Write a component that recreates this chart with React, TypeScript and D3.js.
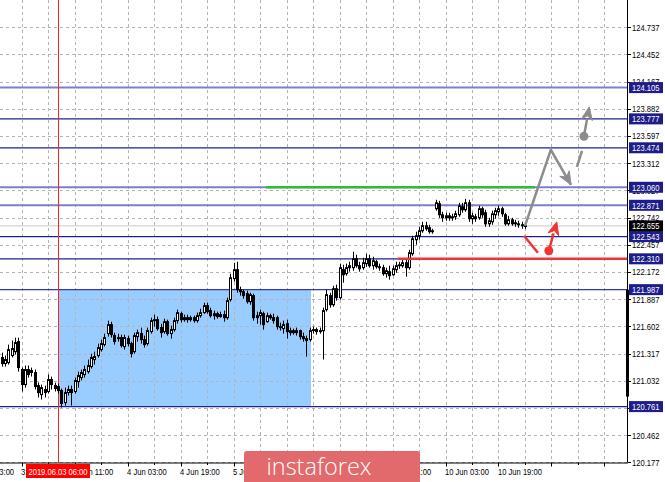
import React from 'react';
import * as d3 from 'd3';

const W = 665;
const H = 482;

// [open, high, low, close] – hourly bars, bar 17 = 2019.06.03 06:00
const candles: [number, number, number, number][] = [
  [121.275, 121.327, 121.180, 121.212], [121.212, 121.296, 121.180, 121.254], [121.222, 121.411, 121.201, 121.358],
  [121.296, 121.453, 121.275, 121.369], [121.337, 121.484, 121.306, 121.432], [121.442, 121.484, 121.128, 121.170],
  [121.149, 121.170, 120.919, 120.992], [120.992, 121.191, 120.960, 121.149], [121.149, 121.191, 121.065, 121.097],
  [121.118, 121.170, 121.076, 121.139], [121.118, 121.149, 120.940, 120.971], [120.981, 121.013, 120.856, 120.908],
  [120.887, 120.992, 120.835, 120.960], [120.940, 120.981, 120.856, 120.908], [120.919, 121.097, 120.898, 121.044],
  [121.044, 121.076, 120.940, 120.992], [120.981, 121.013, 120.919, 120.950], [120.971, 121.002, 120.898, 120.929],
  [120.929, 120.950, 120.751, 120.793], [120.803, 120.960, 120.772, 120.908], [120.908, 120.981, 120.877, 120.940],
  [120.940, 120.981, 120.772, 120.908], [120.919, 121.065, 120.898, 121.034], [121.023, 121.128, 120.960, 121.086],
  [121.065, 121.149, 121.034, 121.118], [121.097, 121.191, 121.065, 121.149], [121.128, 121.254, 121.107, 121.191],
  [121.180, 121.316, 121.160, 121.275], [121.254, 121.337, 121.201, 121.285], [121.296, 121.421, 121.275, 121.379],
  [121.358, 121.463, 121.337, 121.421], [121.411, 121.526, 121.390, 121.484], [121.526, 121.662, 121.494, 121.620],
  [121.620, 121.651, 121.484, 121.515], [121.505, 121.536, 121.411, 121.442], [121.473, 121.526, 121.442, 121.484],
  [121.484, 121.515, 121.379, 121.400], [121.390, 121.515, 121.358, 121.484], [121.473, 121.505, 121.390, 121.421],
  [121.421, 121.442, 121.275, 121.316], [121.337, 121.536, 121.316, 121.505], [121.494, 121.568, 121.442, 121.536],
  [121.526, 121.589, 121.421, 121.463], [121.463, 121.505, 121.379, 121.411], [121.421, 121.589, 121.400, 121.557],
  [121.547, 121.693, 121.526, 121.662], [121.662, 121.725, 121.599, 121.672], [121.672, 121.704, 121.557, 121.578],
  [121.589, 121.630, 121.484, 121.536], [121.547, 121.683, 121.526, 121.651], [121.651, 121.672, 121.505, 121.526],
  [121.526, 121.610, 121.473, 121.568], [121.568, 121.693, 121.547, 121.662], [121.662, 121.777, 121.630, 121.746],
  [121.735, 121.756, 121.641, 121.672], [121.672, 121.725, 121.651, 121.693], [121.693, 121.725, 121.641, 121.672],
  [121.672, 121.714, 121.651, 121.693], [121.693, 121.714, 121.641, 121.662], [121.662, 121.746, 121.641, 121.714],
  [121.714, 121.787, 121.693, 121.746], [121.746, 121.850, 121.735, 121.819], [121.819, 121.850, 121.735, 121.756],
  [121.767, 121.798, 121.693, 121.714], [121.714, 121.767, 121.672, 121.735], [121.735, 121.756, 121.683, 121.704],
  [121.704, 121.756, 121.693, 121.725], [121.725, 121.767, 121.651, 121.693], [121.693, 121.903, 121.672, 121.871],
  [121.882, 122.154, 121.861, 122.112], [122.102, 122.269, 122.070, 122.196], [122.196, 122.279, 121.955, 121.986],
  [121.986, 122.018, 121.924, 121.965], [121.965, 121.986, 121.892, 121.924], [121.945, 121.976, 121.840, 121.861],
  [121.861, 121.955, 121.829, 121.934], [121.924, 121.945, 121.662, 121.693], [121.693, 121.756, 121.630, 121.714],
  [121.714, 121.777, 121.620, 121.746], [121.735, 121.756, 121.568, 121.620], [121.651, 121.746, 121.641, 121.714],
  [121.714, 121.735, 121.672, 121.693], [121.693, 121.735, 121.630, 121.662], [121.693, 121.714, 121.568, 121.599],
  [121.599, 121.641, 121.557, 121.589], [121.578, 121.662, 121.526, 121.620], [121.630, 121.672, 121.473, 121.547],
  [121.536, 121.589, 121.505, 121.557], [121.557, 121.578, 121.515, 121.536], [121.536, 121.589, 121.505, 121.557],
  [121.557, 121.568, 121.463, 121.494], [121.494, 121.536, 121.442, 121.473], [121.473, 121.505, 121.285, 121.453],
  [121.463, 121.589, 121.442, 121.557], [121.557, 121.599, 121.526, 121.568], [121.568, 121.589, 121.515, 121.547],
  [121.547, 121.589, 121.526, 121.557], [121.557, 121.798, 121.254, 121.767], [121.777, 121.986, 121.756, 121.934],
  [121.924, 121.955, 121.798, 121.829], [121.829, 122.028, 121.808, 121.997], [121.997, 122.039, 121.871, 121.903],
  [121.903, 122.259, 121.882, 122.217], [122.196, 122.248, 122.060, 122.143], [122.154, 122.259, 122.133, 122.217],
  [122.217, 122.279, 122.175, 122.238], [122.217, 122.384, 122.185, 122.311], [122.311, 122.353, 122.217, 122.238],
  [122.238, 122.279, 122.175, 122.206], [122.217, 122.321, 122.196, 122.269], [122.259, 122.363, 122.227, 122.311],
  [122.311, 122.353, 122.217, 122.238], [122.238, 122.332, 122.196, 122.290], [122.279, 122.300, 122.206, 122.227],
  [122.227, 122.259, 122.185, 122.217], [122.217, 122.248, 122.133, 122.154], [122.154, 122.217, 122.112, 122.185],
  [122.175, 122.238, 122.091, 122.133], [122.143, 122.238, 122.133, 122.206], [122.196, 122.279, 122.164, 122.238],
  [122.238, 122.279, 122.206, 122.248], [122.238, 122.311, 122.217, 122.269], [122.269, 122.300, 122.122, 122.217],
  [122.217, 122.405, 122.196, 122.374], [122.363, 122.552, 122.342, 122.520], [122.510, 122.594, 122.458, 122.552],
  [122.552, 122.646, 122.510, 122.604], [122.604, 122.698, 122.583, 122.657], [122.657, 122.698, 122.604, 122.625],
  [122.636, 122.667, 122.573, 122.594], [122.594, 122.625, 122.573, 122.604], [122.835, 122.929, 122.814, 122.897],
  [122.887, 122.918, 122.740, 122.772], [122.772, 122.803, 122.698, 122.740], [122.740, 122.793, 122.709, 122.761],
  [122.761, 122.793, 122.709, 122.740], [122.740, 122.782, 122.709, 122.751], [122.751, 122.814, 122.719, 122.782],
  [122.772, 122.897, 122.751, 122.866], [122.856, 122.897, 122.793, 122.824], [122.824, 122.939, 122.803, 122.897],
  [122.897, 122.929, 122.698, 122.730], [122.730, 122.793, 122.677, 122.761], [122.751, 122.782, 122.698, 122.730],
  [122.740, 122.866, 122.719, 122.835], [122.835, 122.856, 122.740, 122.772], [122.793, 122.824, 122.646, 122.677],
  [122.677, 122.740, 122.646, 122.709], [122.698, 122.814, 122.667, 122.782], [122.772, 122.845, 122.730, 122.814],
  [122.803, 122.866, 122.761, 122.835], [122.835, 122.856, 122.751, 122.782], [122.772, 122.793, 122.657, 122.677],
  [122.677, 122.761, 122.657, 122.719], [122.719, 122.740, 122.657, 122.677], [122.688, 122.719, 122.646, 122.677],
  [122.677, 122.709, 122.636, 122.667], [122.667, 122.698, 122.625, 122.657], [122.657, 122.688, 122.625, 122.655],
];

const priceTicks = [124.737, 124.452, 124.167, 123.882, 123.597, 123.312, 123.027, 122.742, 122.457,
  122.172, 121.887, 121.602, 121.317, 121.032, 120.747, 120.462, 120.177];

const levelValues = [124.105, 123.777, 123.474, 123.060, 122.871, 122.543, 122.310, 121.987, 120.761];
const lightLevels = [124.105, 123.060, 122.871];
const midLevels = [121.987];
const currentPrice = 122.655;

// bar index of each visible time label
const timeLabels: [number, string][] = [
  [-10, '31 May 03:00'], [6, '31 May 19:00'], [22, '3 Jun 11:00'], [38, '4 Jun 03:00'], [54, '4 Jun 19:00'],
  [70, '5 Jun 11:00'], [118, '7 Jun 11:00'],
  [134, '10 Jun 03:00'], [150, '10 Jun 19:00'],
];
const markerBar = 17;
const markerLabel = '2019.06.03 06:00';

const zone = { from: 17.3, to: 93.4, top: 121.987, bottom: 120.761 };
const greenLevel = { from: 79.8, to: 161, value: 123.06 };
const redLevel = { from: 119.6, value: 122.31 };
const rangeBar = { top: 121.987, bottom: 120.866 };

const greyPath: [number, number][] = [[158, 122.655], [165.8, 123.452], [171.9, 123.086]];
const greyDash: [number, number][] = [[173.7, 123.274], [175.2, 123.442]];
const greyDot: [number, number] = [175.8, 123.594];
const greyTip: [number, number] = [177.4, 123.903];
const redSeg: [number, number][] = [[157.7, 122.552], [161.9, 122.374]];
const redDot: [number, number] = [165.2, 122.395];
const redTip: [number, number] = [167.6, 122.698];

const PLOT_R = 627;
const PLOT_B = 462.5;

const xs = d3.scaleLinear().domain([0, 188.8]).range([1.69, PLOT_R]);
const ys = d3.scaleLinear().domain([120.177, 124.737]).range([462.3, 27.3]);

function arrowHead(x0: number, y0: number, x1: number, y1: number, len = 13, half = 5.5) {
  const dx = x1 - x0, dy = y1 - y0;
  const d = Math.hypot(dx, dy) || 1;
  const ux = dx / d, uy = dy / d;
  const px = -uy, py = ux;
  const bx = x1 - ux * len, by = y1 - uy * len;
  const nx = x1 - ux * len * 0.7, ny = y1 - uy * len * 0.7;
  return `M${x1},${y1} L${bx + px * half},${by + py * half} L${nx},${ny} L${bx - px * half},${by - py * half} Z`;
}

const FONT = '"Liberation Sans", Arial, sans-serif';

function AxisText({ x, y, text, fill = '#000', anchor = 'start' }: any) {
  return (
    <text transform={`translate(${x},${y}) scale(0.8,1)`} fontFamily={FONT} fontSize={9.5} fill={fill} textAnchor={anchor}>
      {text}
    </text>
  );
}

export default function App() {
  const gridBars: number[] = [];
  for (let b = 6; xs(b) < PLOT_R; b += 8) gridBars.push(b);

  const line = d3.line<[number, number]>().x((d) => xs(d[0])).y((d) => ys(d[1]));

  const gp = greyPath.map((d) => [xs(d[0]), ys(d[1])]);
  const gEnd = gp[gp.length - 1];
  const gPrev = gp[gp.length - 2];
  const gdot = [xs(greyDot[0]), ys(greyDot[1])];
  const gtip = [xs(greyTip[0]), ys(greyTip[1])];
  const rdot = [xs(redDot[0]), ys(redDot[1])];
  const rtip = [xs(redTip[0]), ys(redTip[1])];

  // tick labels that sit entirely under a level box are not drawn
  const labelTicks = priceTicks.filter((v) => !levelValues.some((l) => Math.abs(ys(l) - ys(v)) < 2.5));

  return (
    <svg width={W} height={H} style={{ position: 'absolute', left: 0, top: 0, background: '#fff' }}>
      <rect x={0} y={0} width={W} height={H} fill="#fff" />
      <rect x={xs(zone.from)} y={ys(zone.top)} width={xs(zone.to) - xs(zone.from)} height={ys(zone.bottom) - ys(zone.top)} fill="#99ccff" />
      {priceTicks.map((v) => (
        <line key={'h' + v} x1={0} x2={PLOT_R} y1={Math.round(ys(v)) + 0.5} y2={Math.round(ys(v)) + 0.5} stroke="#b4b4b4" strokeDasharray="3,3" strokeWidth={1} />
      ))}
      {gridBars.map((b) => (
        <line key={'v' + b} x1={Math.round(xs(b)) + 0.5} x2={Math.round(xs(b)) + 0.5} y1={0} y2={PLOT_B} stroke="#b4b4b4" strokeDasharray="3,3" strokeWidth={1} />
      ))}
      {levelValues.map((v) => {
        const light = lightLevels.includes(v);
        const mid = midLevels.includes(v);
        return (
          <line key={'l' + v} x1={0} x2={PLOT_R} y1={ys(v)} y2={ys(v)} stroke={light ? '#7f7fc8' : mid ? '#3838a8' : '#20208c'} strokeWidth={light ? 2 : 1.3} />
        );
      })}
      <line x1={0} x2={PLOT_R} y1={ys(currentPrice)} y2={ys(currentPrice)} stroke="#c8c8c8" strokeWidth={1} />
      <line x1={Math.round(xs(markerBar)) + 0.5} x2={Math.round(xs(markerBar)) + 0.5} y1={0} y2={PLOT_B} stroke="#ff2020" strokeWidth={1} />
      {candles.map(([o, h, l, c], i) => {
        const x = Math.round(xs(i)) + 0.5;
        const top = ys(Math.max(o, c));
        const bot = ys(Math.min(o, c));
        const bull = c >= o;
        return (
          <g key={i}>
            <line x1={x} x2={x} y1={ys(h)} y2={ys(l)} stroke="#000" strokeWidth={1} />
            <rect x={x - 1} y={top} width={2} height={Math.max(0.8, bot - top)} fill={bull ? '#fff' : '#000'} stroke="#000" strokeWidth={1} />
          </g>
        );
      })}
      <line x1={xs(greenLevel.from)} x2={xs(greenLevel.to)} y1={ys(greenLevel.value)} y2={ys(greenLevel.value)} stroke="#33bb33" strokeWidth={2.5} />
      <line x1={xs(redLevel.from)} x2={PLOT_R} y1={ys(redLevel.value)} y2={ys(redLevel.value)} stroke="#f03434" strokeWidth={2.5} />
      <path d={line(greyPath) || ''} fill="none" stroke="#8c8c8c" strokeWidth={2.5} strokeLinejoin="miter" />
      <path d={arrowHead(gPrev[0], gPrev[1], gEnd[0], gEnd[1])} fill="#8c8c8c" stroke="#8c8c8c" strokeWidth={1} />
      <path d={line(greyDash) || ''} fill="none" stroke="#8c8c8c" strokeWidth={2.5} />
      <circle cx={gdot[0]} cy={gdot[1]} r={4.5} fill="#8c8c8c" />
      <line x1={gdot[0]} y1={gdot[1]} x2={gdot[0] + (gtip[0] - gdot[0]) * 0.6} y2={gdot[1] + (gtip[1] - gdot[1]) * 0.6} stroke="#8c8c8c" strokeWidth={2.5} />
      <path d={arrowHead(gdot[0], gdot[1], gtip[0], gtip[1])} fill="#8c8c8c" stroke="#8c8c8c" strokeWidth={1} />
      <path d={line(redSeg) || ''} fill="none" stroke="#f03434" strokeWidth={2.5} />
      <circle cx={rdot[0]} cy={rdot[1]} r={4.5} fill="#f03434" />
      <line x1={rdot[0]} y1={rdot[1]} x2={rdot[0] + (rtip[0] - rdot[0]) * 0.6} y2={rdot[1] + (rtip[1] - rdot[1]) * 0.6} stroke="#f03434" strokeWidth={2.5} />
      <path d={arrowHead(rdot[0], rdot[1], rtip[0], rtip[1])} fill="#f03434" stroke="#f03434" strokeWidth={1} />
      <line x1={PLOT_R + 0.5} x2={PLOT_R + 0.5} y1={0} y2={PLOT_B} stroke="#000" strokeWidth={1} />
      <line x1={PLOT_R + 0.5} x2={PLOT_R + 0.5} y1={ys(rangeBar.top)} y2={ys(rangeBar.bottom)} stroke="#000" strokeWidth={3} />
      <line x1={0} x2={PLOT_R + 1} y1={PLOT_B + 0.5} y2={PLOT_B + 0.5} stroke="#000" strokeWidth={1} />
      {priceTicks.map((v) => (
        <line key={'tk' + v} x1={PLOT_R + 1} x2={PLOT_R + 4} y1={Math.round(ys(v)) + 0.5} y2={Math.round(ys(v)) + 0.5} stroke="#000" />
      ))}
      {labelTicks.map((v) => (
        <AxisText key={'t' + v} x={632} y={ys(v) + 3.4} text={v.toFixed(3)} />
      ))}
      {gridBars.map((b) => (
        <line key={'bt' + b} x1={Math.round(xs(b)) + 0.5} x2={Math.round(xs(b)) + 0.5} y1={PLOT_B} y2={PLOT_B + (((b - 6) / 8) % 2 === 0 ? 4 : 2.5)} stroke="#000" />
      ))}
      {timeLabels.map(([b, t]) => (
        <AxisText key={'tl' + b} x={xs(b) - 0.5} y={475} text={t} />
      ))}
      {levelValues.map((v) => (
        <g key={'lb' + v}>
          <rect x={629} y={ys(v) - 5.5} width={34} height={11} fill="#1c1c8a" />
          <AxisText x={632} y={ys(v) + 3.4} text={v.toFixed(3)} fill="#fff" />
        </g>
      ))}
      <rect x={629} y={ys(currentPrice) - 5.5} width={34} height={11} fill="#000" />
      <AxisText x={632} y={ys(currentPrice) + 3.4} text={currentPrice.toFixed(3)} fill="#fff" />
      <rect x={xs(markerBar) - 32} y={464} width={64} height={14} fill="#ff0000" />
      <AxisText x={xs(markerBar)} y={475} text={markerLabel} fill="#fff" anchor="middle" />
      <rect x={244} y={451} width={176} height={34} rx={3} fill="#e26a6c" />
      <text x={319} y={474.5} textAnchor="middle" fontFamily='"Open Sans", sans-serif' fontWeight={300} fontSize={23.5} fill="#fff">instaforex</text>
    </svg>
  );
}
